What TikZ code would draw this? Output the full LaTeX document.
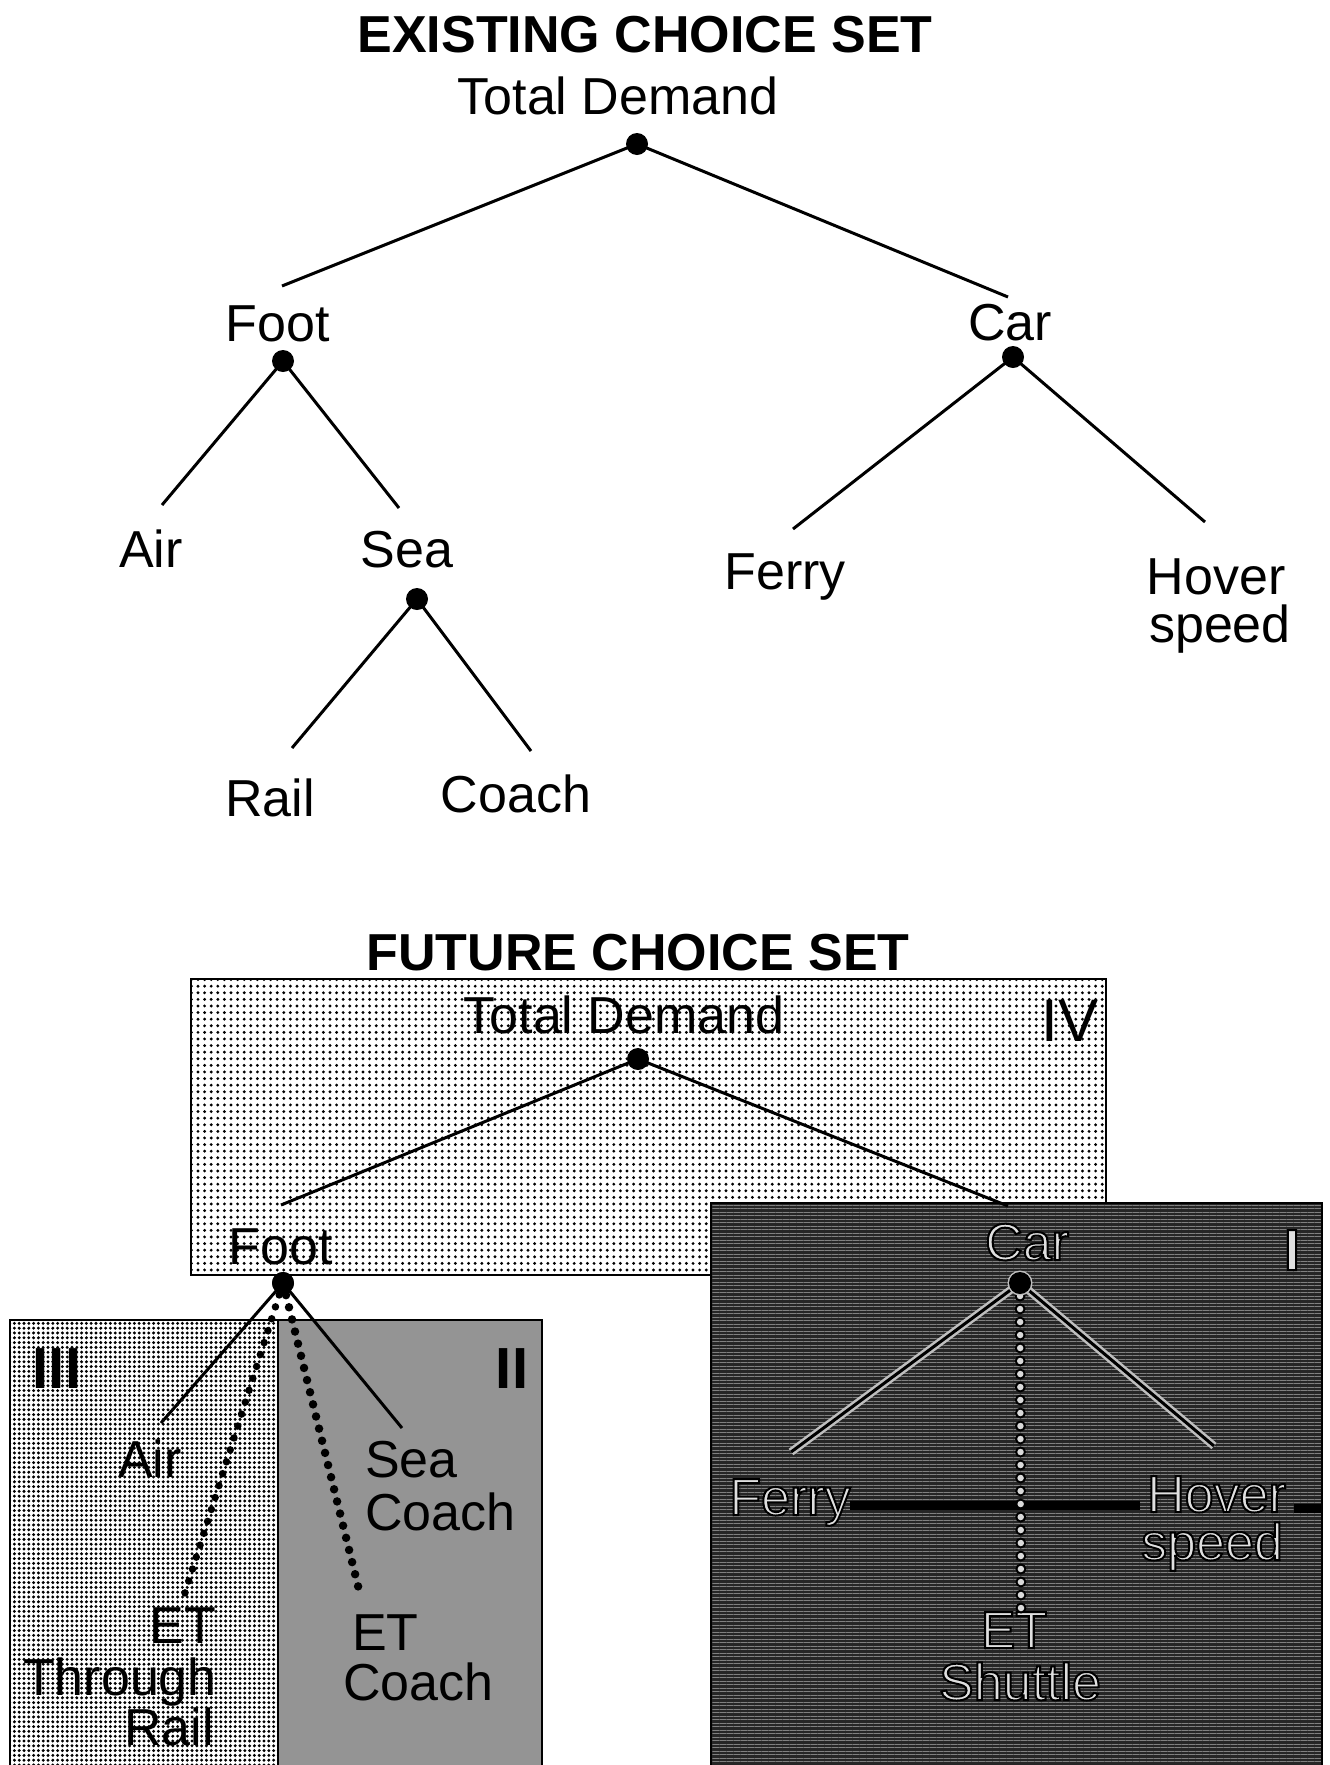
\documentclass[tikz,border=0pt]{standalone}
\usepackage{fontspec}
\setmainfont{Liberation Sans}
\usetikzlibrary{patterns.meta}

% light lettering with a dark rim (fill-and-stroke text rendering)
\newcommand\rimmed[1]{\special{pdf:literal direct 2 Tr 2 w 0 0 0 RG}#1\special{pdf:literal direct 0 Tr}}

\begin{document}
\begin{tikzpicture}[x=1pt, y=-1pt,
  word/.style={font=\fontsize{52}{52}\selectfont, inner sep=0pt, anchor=base},
  heading/.style={font=\bfseries\fontsize{52}{52}\selectfont, inner sep=0pt, anchor=base},
  numeral/.style={font=\fontsize{60}{60}\selectfont, inner sep=0pt, anchor=base},
  boldnumeral/.style={font=\bfseries\fontsize{58}{58}\selectfont, inner sep=0pt, anchor=base},
  nightword/.style={word, text=white!88!black},
  knot/.style={circle, fill=black, inner sep=0pt, minimum size=22pt},
  branch/.style={line width=3pt},
  halo/.style={line width=8pt, draw=white!75!black},
  etlink/.style={line width=7.5pt, line cap=round, dash pattern=on 0pt off 12.5pt},
  panel/.style={draw=black, line width=2pt},
]
\useasboundingbox (0,0) rectangle (1330,1765);
\fill[white] (0,0) rectangle (1330,1765);

% ---------------- existing choice set ----------------
\node[heading] (t-title) at (645,52) {EXISTING CHOICE SET};
\node[word] (t-total) at (618,114) {Total Demand};
\node[knot] (t-root) at (637,144) {};

\node[word] (t-foot) at (278,341) {Foot};
\node[knot] (t-footk) at (283,361) {};
\node[word] (t-car) at (1010,340) {Car};
\node[knot] (t-cark) at (1013,357) {};

\node[word] (t-air) at (151,567) {Air};
\node[word] (t-sea) at (407,567) {Sea};
\node[knot] (t-seak) at (417,599) {};
\node[word] (t-rail) at (270,816) {Rail};
\node[word] (t-coach) at (516,812) {Coach};
\node[word] (t-ferry) at (785,589) {Ferry};
\node[word] (t-hover) at (1216,594) {Hover};
\node[word] (t-speed) at (1220,642) {speed};

\coordinate (t-e1) at (282,286);
\coordinate (t-e2) at (1008,297);
\coordinate (t-e3) at (162,505);
\coordinate (t-e4) at (399,508);
\coordinate (t-e5) at (292,748);
\coordinate (t-e6) at (531,751);
\coordinate (t-e7) at (793,529);
\coordinate (t-e8) at (1205,522);

\draw[branch] (t-root.center) -- (t-e1);
\draw[branch] (t-root.center) -- (t-e2);
\draw[branch] (t-footk.center) -- (t-e3);
\draw[branch] (t-footk.center) -- (t-e4);
\draw[branch] (t-seak.center) -- (t-e5);
\draw[branch] (t-seak.center) -- (t-e6);
\draw[branch] (t-cark.center) -- (t-e7);
\draw[branch] (t-cark.center) -- (t-e8);

% ---------------- future choice set: shaded regions ----------------
\node[heading] (b-title) at (638,970) {FUTURE CHOICE SET};

% region IV
\fill[white] (191,979) rectangle (1106,1275);
\fill[pattern={Dots[distance=6.6pt, radius=1.6pt]}, pattern color=black] (191,979) rectangle (1106,1275);
\draw[panel] (191,979) rectangle (1106,1275);

% region III
\fill[white] (10,1320) rectangle (278,1775);
\fill[pattern={Dots[distance=4.8pt, radius=1.65pt]}, pattern color=black] (10,1320) rectangle (278,1775);
\draw[panel] (10,1320) rectangle (278,1775);

% region II
\fill[black!42] (278,1320) rectangle (542,1775);
\draw[panel] (278,1320) rectangle (542,1775);

% region I
\fill[black!85] (711,1203) rectangle (1322,1775);
\fill[pattern={Lines[angle=0, distance=3.5pt, line width=0.6pt]}, pattern color=white!50!black] (711,1203) rectangle (1322,1775);
\draw[panel] (711,1203) rectangle (1322,1775);
\draw[line width=9pt] (850,1505) -- (1140,1505);
\draw[line width=9pt] (1294,1508) -- (1322,1508);

% ---------------- future choice set: tree ----------------
\node[word] (b-total) at (624,1033) {Total Demand};
\node[numeral] (b-iv) at (1070,1041) {IV};
\node[knot] (b-root) at (638,1059) {};
\node[word] (b-foot) at (281,1264) {Foot};
\node[knot] (b-footk) at (283,1283) {};

\node[boldnumeral] (b-iii) at (57,1388) {III};
\node[boldnumeral] (b-ii) at (512,1388) {II};
\node[word] (b-air) at (150,1477) {Air};
\node[word, anchor=base west] (b-sea) at (365,1477) {Sea};
\node[word, anchor=base west] (b-seacoach) at (365,1530) {Coach};
\node[word, anchor=base east] (b-et1) at (216,1643) {ET};
\node[word, anchor=base east] (b-through) at (217,1695) {Through};
\node[word, anchor=base east] (b-rail) at (214,1745) {Rail};
\node[word, anchor=base west] (b-et2) at (352,1650) {ET};
\node[word, anchor=base west] (b-etcoach) at (343,1700) {Coach};

\coordinate (b-e1) at (281,1205);
\coordinate (b-e2) at (1008,1206);
\coordinate (b-e3) at (161,1423);
\coordinate (b-e4) at (402,1428);
\coordinate (b-e5) at (184,1596);
\coordinate (b-e6) at (361,1598);

\draw[branch] (b-root.center) -- (b-e1);
\draw[branch] (b-root.center) -- (b-e2);
\draw[branch] (b-footk.center) -- (b-e3);
\draw[branch] (b-footk.center) -- (b-e4);
\draw[etlink] (b-footk.center) -- (b-e5);
\draw[etlink, line width=8.5pt] (b-footk.center) -- (b-e6);
\node[knot] at (b-footk) {};

% region I contents, light on dark
\node[nightword] (b-car) at (1027,1260) {\rimmed{Car}};
\node[nightword, font=\bfseries\fontsize{58}{58}\selectfont] (b-i) at (1292,1270) {\rimmed{I}};
\node[nightword] (b-ferry) at (790,1515) {\rimmed{Ferry}};
\node[nightword, anchor=base west] (b-hover) at (1147,1512) {\rimmed{Hover}};
\node[nightword, anchor=base west] (b-speed) at (1141,1560) {\rimmed{speed}};
\node[nightword] (b-et3) at (1014,1648) {\rimmed{ET}};
\node[nightword] (b-shuttle) at (1020,1700) {\rimmed{Shuttle}};

\coordinate (b-carpt) at (1020,1283);
\coordinate (b-e7) at (791,1452);
\coordinate (b-e8) at (1214,1446);
\coordinate (b-e9) at (1021,1608);

\draw[halo] (b-carpt) -- (b-e7);
\draw[halo] (b-carpt) -- (b-e8);
\draw[branch] (b-carpt) -- (b-e7);
\draw[branch] (b-carpt) -- (b-e8);
\draw[etlink, line width=11pt, dash pattern=on 0pt off 13pt] (b-carpt) -- (b-e9);
\draw[etlink, line width=6.5pt, dash pattern=on 0pt off 13pt, draw=white!85!black] (b-carpt) -- (b-e9);
\node[knot, minimum size=25pt, fill=white!75!black] at (b-carpt) {};
\node[knot] (b-cark) at (b-carpt) {};
\end{tikzpicture}
\end{document}
